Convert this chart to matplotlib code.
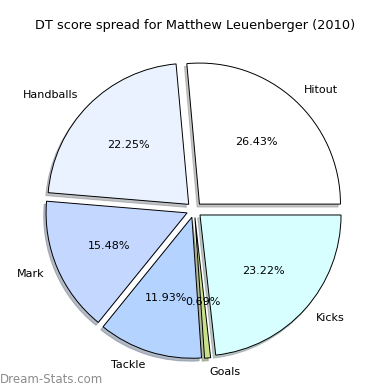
import matplotlib
matplotlib.use('Agg')
import matplotlib.pyplot as plt

labels = ['Hitout', 'Handballs', 'Mark', 'Tackle', 'Goals', 'Kicks']
values = [26.43, 22.25, 15.48, 11.93, 0.69, 23.22]
colors = ['#ffffff', '#eaf2ff', '#c4d8ff', '#b4d4ff', '#c8e088', '#d8ffff']
explode = [0.055] * len(values)

fig = plt.figure(figsize=(3.9, 3.9), dpi=100)
ax = fig.add_axes([0.046, 0.01, 0.904, 0.904])
wedges, texts, autotexts = ax.pie(values, labels=labels, colors=colors, explode=explode,
                                  autopct='%1.2f%%', startangle=0,
                                  shadow={'ox': -0.012, 'oy': -0.015, 'shade': 0.45},
                                  wedgeprops={'edgecolor': 'black', 'linewidth': 0.7},
                                  textprops={'fontsize': 8})
ax.set_aspect('equal')
ax.set_xlim(-1.25, 1.25)
ax.set_ylim(-1.25, 1.25)
fig.suptitle('DT score spread for Matthew Leuenberger (2010)', fontsize=9.3, y=0.95)
fig.text(0.0, 0.018, 'Dream-Stats.com', fontsize=8.5, color='#8c8c8c')
fig.savefig('out.png')
